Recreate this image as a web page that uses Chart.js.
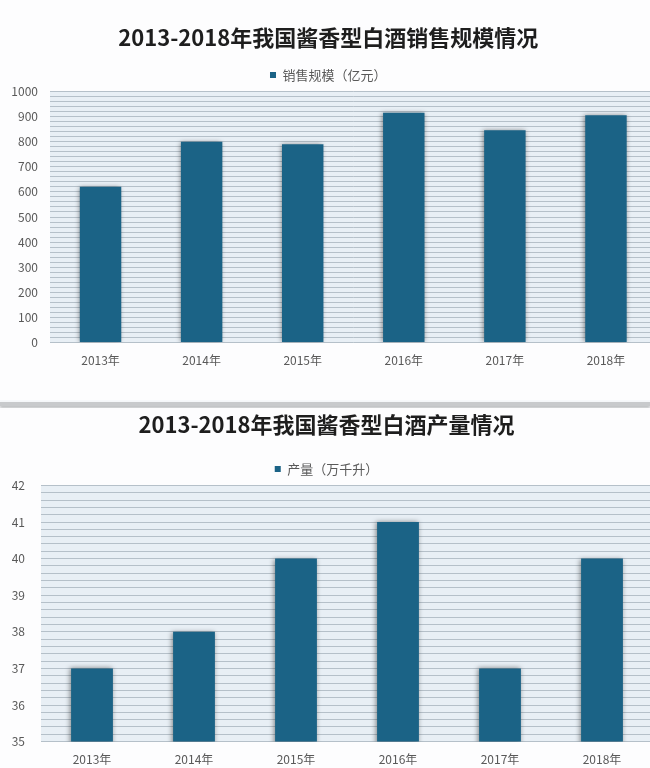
<!DOCTYPE html>
<html>

<head>
    <meta charset="UTF-8">
    <script src="https://cdn.jsdelivr.net/npm/chart.js"></script>
    <style>
        html, body { margin: 0; padding: 0; overflow: hidden; background: #f7f9fb; }
        .panel { position: relative; width: 662px; background: #fdfdfe; }
        #salesBox { height: 400px; }
        #outputBox { height: 370px; }
        .divider { height: 4px; background: #c8cacc; box-shadow: 0 2px 3px rgba(0,0,0,0.25); margin-top: 2px; margin-bottom: 2px; }
    </style>
</head>

<body>
    <div class="panel" id="salesBox"><canvas id="salesChart"></canvas></div>
    <div class="divider"></div>
    <div class="panel" id="outputBox"><canvas id="outputChart"></canvas></div>
    <script>
        // data
        const years = ["2013年", "2014年", "2015年", "2016年", "2017年", "2018年"];
        const salesValues = [620, 800, 790, 915, 845, 905];
        const outputValues = [37, 38, 40, 41, 37, 40];
        const salesTitle = "2013-2018年我国酱香型白酒销售规模情况";
        const outputTitle = "2013-2018年我国酱香型白酒产量情况";
        const salesLabel = "销售规模（亿元）";
        const outputLabel = "产量（万千升）";

        const FONT = "'Noto Sans CJK SC', 'Noto Sans', sans-serif";
        const BAR = "#1b6386";

        // light blue plot background + soft shadow behind the bars
        const plotDecor = {
            id: 'plotDecor',
            beforeDraw(chart) {
                const a = chart.chartArea, ctx = chart.ctx;
                ctx.save();
                ctx.fillStyle = "#e8eff5";
                ctx.fillRect(a.left, a.top, a.right - a.left, a.bottom - a.top);
                ctx.restore();
            },
            beforeDatasetsDraw(chart) {
                const ctx = chart.ctx;
                ctx.save();
                ctx.shadowColor = "rgba(0,0,0,0.45)";
                ctx.shadowBlur = 5;
                ctx.shadowOffsetX = -1;
                ctx.shadowOffsetY = 0;
            },
            afterDatasetsDraw(chart) {
                chart.ctx.restore();
            }
        };

        function makeChart(id, title, label, values, opts) {
            return new Chart(document.getElementById(id), {
                type: "bar",
                data: {
                    labels: years,
                    datasets: [{
                        label: label,
                        data: values,
                        backgroundColor: BAR,
                        borderWidth: 0,
                        categoryPercentage: 1,
                        barPercentage: 0.41
                    }]
                },
                options: {
                    responsive: true,
                    maintainAspectRatio: false,
                    animation: false,
                    layout: { padding: { left: 0, right: opts.padRight, top: 0, bottom: opts.padBottom } },
                    plugins: {
                        title: {
                            display: true,
                            text: title,
                            color: "#1e1e1e",
                            font: { family: FONT, size: 22, weight: "bold" },
                            padding: { top: opts.titleTop, bottom: opts.titleBottom }
                        },
                        legend: {
                            display: true,
                            labels: {
                                color: "#595959",
                                font: { family: FONT, size: 13 },
                                boxWidth: 6,
                                boxHeight: 6,
                                padding: opts.legendPad
                            }
                        },
                        tooltip: { enabled: false }
                    },
                    scales: {
                        x: {
                            grid: { display: false, drawTicks: false },
                            border: { display: false },
                            ticks: { color: "#595959", font: { family: FONT, size: 12 }, padding: 11 }
                        },
                        y: {
                            min: opts.min,
                            max: opts.max,
                            afterFit: (s) => { s.width = opts.axisWidth; },
                            grid: { color: "#b5c0c9", lineWidth: 1, drawTicks: false },
                            border: { display: false },
                            ticks: {
                                stepSize: opts.step,
                                autoSkip: false,
                                padding: opts.tickPad,
                                color: "#595959",
                                font: { family: FONT, size: 12 },
                                callback: (v) => {
                                    const r = Math.round(v / opts.labelStep) * opts.labelStep;
                                    return Math.abs(v - r) < 1e-6 ? String(Math.round(r)) : "";
                                }
                            }
                        }
                    }
                },
                plugins: [plotDecor]
            });
        }

        makeChart("salesChart", salesTitle, salesLabel, salesValues, {
            min: 0, max: 1000, step: 20, labelStep: 100,
            axisWidth: 50, tickPad: 12, padRight: 5.5, padBottom: 21,
            titleTop: 24, titleBottom: 7, legendPad: 11
        });

        makeChart("outputChart", outputTitle, outputLabel, outputValues, {
            min: 35, max: 42, step: 0.2, labelStep: 1,
            axisWidth: 41, tickPad: 16, padRight: 9, padBottom: 0,
            titleTop: 3, titleBottom: 14, legendPad: 11
        });
    </script>
</body>

</html>
